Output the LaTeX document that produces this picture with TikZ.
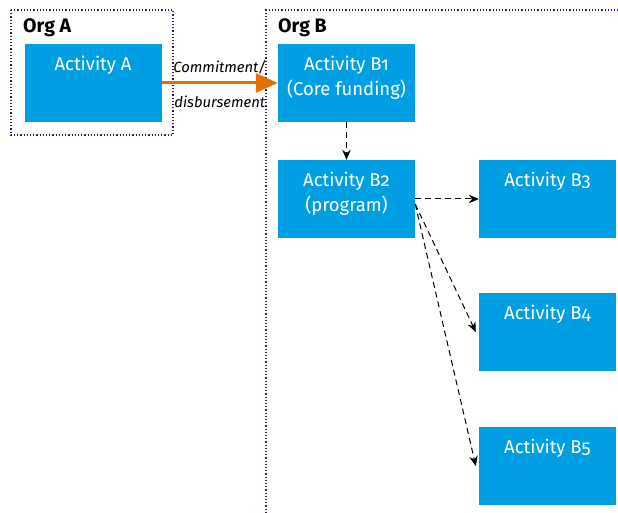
\documentclass[tikz,border=0pt]{standalone}
\usepackage{fontspec}
\setmainfont{Fira Sans}[Numbers=OldStyle]
\usetikzlibrary{positioning,arrows.meta}
\definecolor{actblue}{RGB}{0,159,227}
\definecolor{orgviolet}{RGB}{66,20,95}
\definecolor{fundorange}{RGB}{225,112,0}
\begin{document}
\begin{tikzpicture}[x=1pt,y=-1pt,
    actbox/.style={fill=actblue,minimum width=137pt,minimum height=78pt,inner sep=0pt},
    acttext/.style={text=white,align=center,inner sep=0pt,font=\fontsize{18.5}{25}\selectfont},
    orgframe/.style={draw=orgviolet,dotted,line width=1.2pt},
    orglabel/.style={anchor=base west,inner sep=0pt,font=\fontsize{19.5}{21}\selectfont\bfseries},
    flow/.style={dash pattern=on 6pt off 4pt,line width=1pt,-{Stealth[length=10pt,width=8.5pt]}},
    fund/.style={draw=fundorange,line width=3pt,-{Triangle[length=22pt,width=19pt]}},
    fundlabel/.style={inner sep=0pt,font=\fontsize{14.8}{16}\selectfont\itshape}]
  \useasboundingbox (0,0) rectangle (618,513);
  % organisations
  \draw[orgframe] (11,10) rectangle (173,135);
  \draw[orgframe] (266,513) -- (266,10) -- (618,10);
  \node[orglabel] (orga) at (23,33) {Org A};
  \node[orglabel] (orgb) at (278,33) {Org B};
  % activities
  \draw
    (93,83) node[actbox] (a){}
    (346.5,83) node[actbox] (b1){}
    (346.5,199) node[actbox] (b2){}
    (547.5,199) node[actbox] (b3){}
    (547.5,332) node[actbox] (b4){}
    (547.5,466) node[actbox] (b5){};
  \node[acttext,below=12pt of a.north] (at) {Activity A};
  \node[acttext,below=12pt of b1.north] (b1t) {Activity B1\\(Core funding)};
  \node[acttext,below=12pt of b2.north] (b2t) {Activity B2\\(program)};
  \node[acttext,below=12pt of b3.north] (b3t) {Activity B3};
  \node[acttext,below=12pt of b4.north] (b4t) {Activity B4};
  \node[acttext,below=12pt of b5.north] (b5t) {Activity B5};
  % flows
  \draw[fund] (a) -- node[fundlabel,above=7pt] (commit){Commitment/}
    node[fundlabel,below=11pt] (disb){disbursement} (b1);
  \coordinate (b2out) at ([yshift=-5pt]b2.east);
  \begin{scope}[flow]
    \draw (b1) -- (b2);
    \draw (b2) -- (b3);
    \draw (b2out) -- ([xshift=-3pt]b4.west);
    \draw (b2out) -- ([xshift=-3pt]b5.west);
  \end{scope}
\end{tikzpicture}
\end{document}
